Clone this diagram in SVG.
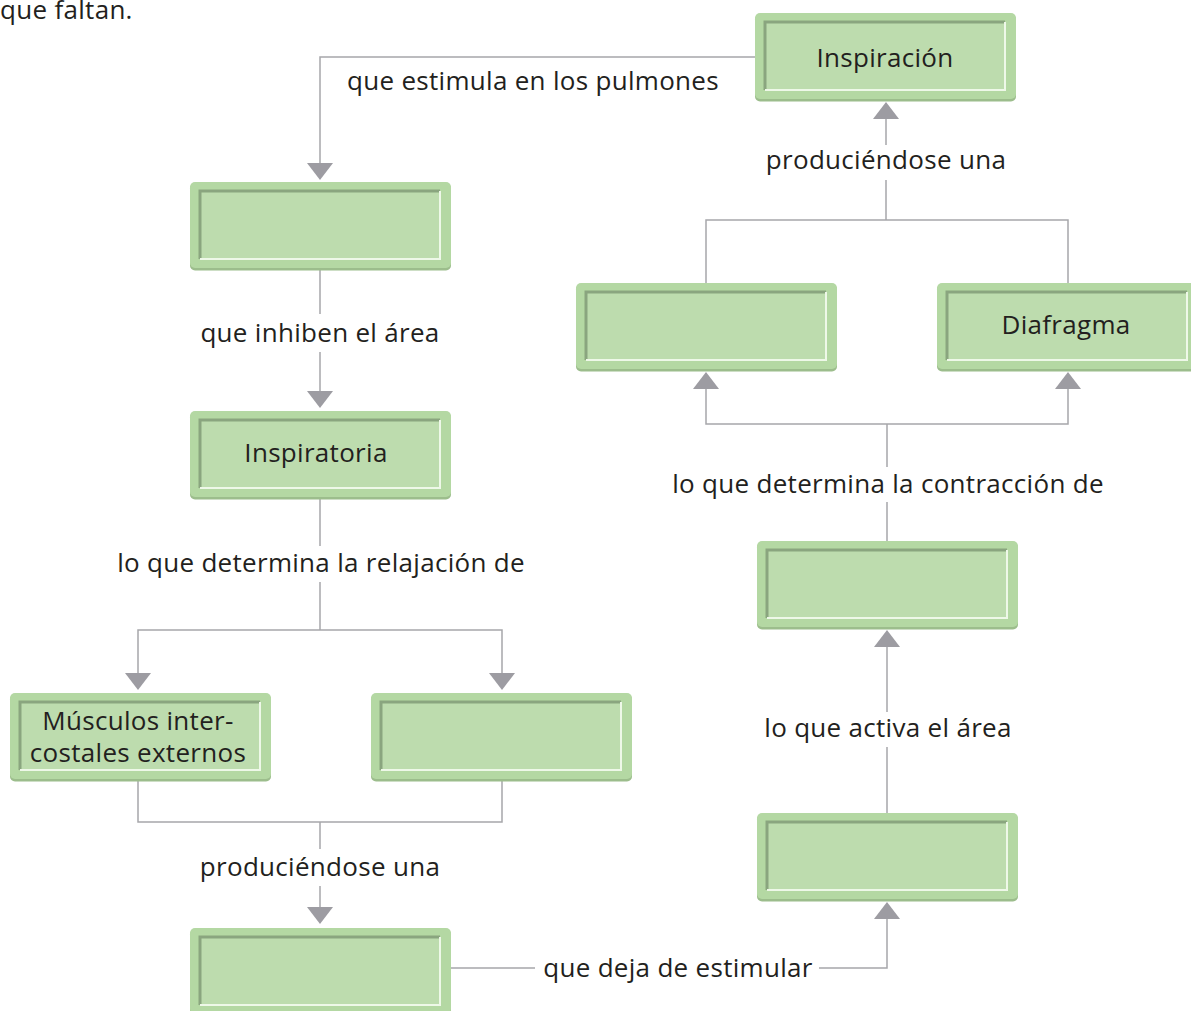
<svg xmlns="http://www.w3.org/2000/svg" width="1191" height="1011" viewBox="0 0 1191 1011">
<style>
.t{font-family:"Open Sans","Noto Sans","Liberation Sans",sans-serif;font-size:26px;letter-spacing:0.3px;fill:#231f20}
.m{text-anchor:middle}
.ln{fill:none;stroke:#a7a7ab;stroke-width:1.5}
.ar{fill:#9d9ca2}
</style>
<defs>
<g id="box">
<rect x="0" y="1.5" width="261" height="87" rx="5" fill="#9cbd8c"/>
<rect x="0" y="0" width="261" height="86" rx="5" fill="#b4d8a3"/>
<rect x="10" y="9" width="240" height="68" fill="#bddcae"/>
<path d="M10,77 V9 H250" fill="none" stroke="#8aa57f" stroke-width="3"/>
<path d="M10,77 H250 V9" fill="none" stroke="#eef8e8" stroke-width="2"/>
</g>
</defs>
<rect width="1191" height="1011" fill="#ffffff"/>
<text class="t" x="0" y="19">que faltan.</text>

<g id="connectors">
<path class="ln" d="M755,57 H320 V163"/>
<polygon class="ar" points="307,163 333,163 320,180"/>
<path class="ln" d="M320,269 V314 M320,352 V391"/>
<polygon class="ar" points="307,391 333,391 320,408"/>
<path class="ln" d="M320,498 V546 M320,582 V630 M138,673 V630 H502 V673"/>
<polygon class="ar" points="125,673 151,673 138,690"/>
<polygon class="ar" points="489,673 515,673 502,690"/>
<path class="ln" d="M138,780 V822 H502 V780 M320,822 V849 M320,886 V907"/>
<polygon class="ar" points="307,907 333,907 320,924"/>
<path class="ln" d="M451,968 H535 M819,968 H887 V919"/>
<polygon class="ar" points="874,919 900,919 887,902"/>
<path class="ln" d="M887,813 V747 M887,712 V647"/>
<polygon class="ar" points="874,647 900,647 887,630"/>
<path class="ln" d="M887,541 V502 M887,467 V424 M706,389 V424 H1068 V389"/>
<polygon class="ar" points="693,389 719,389 706,372"/>
<polygon class="ar" points="1055,389 1081,389 1068,372"/>
<path class="ln" d="M706,283 V220 H1068 V283 M886,220 V180 M886,145 V119"/>
<polygon class="ar" points="873,119 899,119 886,102"/>
</g>

<g id="labels">
<text class="t" x="347" y="90">que estimula en los pulmones</text>
<text class="t m" x="886" y="169">produciéndose una</text>
<text class="t m" x="320" y="342">que inhiben el área</text>
<text class="t m" x="321" y="572">lo que determina la relajación de</text>
<text class="t m" x="320" y="876">produciéndose una</text>
<text class="t m" x="678" y="977">que deja de estimular</text>
<text class="t m" x="888" y="737">lo que activa el área</text>
<text class="t m" x="888" y="493">lo que determina la contracción de</text>
</g>

<g id="n-inspiracion"><use href="#box" x="755" y="13"/><text class="t m" x="885" y="67">Inspiración</text></g>
<g id="n-blank1"><use href="#box" x="190" y="182"/></g>
<g id="n-inspiratoria"><use href="#box" x="190" y="411"/><text class="t m" x="316" y="462">Inspiratoria</text></g>
<g id="n-musculos"><use href="#box" x="10" y="693"/><text class="t m" x="138" y="730">Músculos inter-</text><text class="t m" x="138" y="762">costales externos</text></g>
<g id="n-blank2"><use href="#box" x="371" y="693"/></g>
<g id="n-blank3"><use href="#box" x="190" y="928"/></g>
<g id="n-blank4"><use href="#box" x="576" y="283"/></g>
<g id="n-diafragma"><use href="#box" x="937" y="283"/><text class="t m" x="1066" y="334">Diafragma</text></g>
<g id="n-blank5"><use href="#box" x="757" y="541"/></g>
<g id="n-blank6"><use href="#box" x="757" y="813"/></g>
</svg>
